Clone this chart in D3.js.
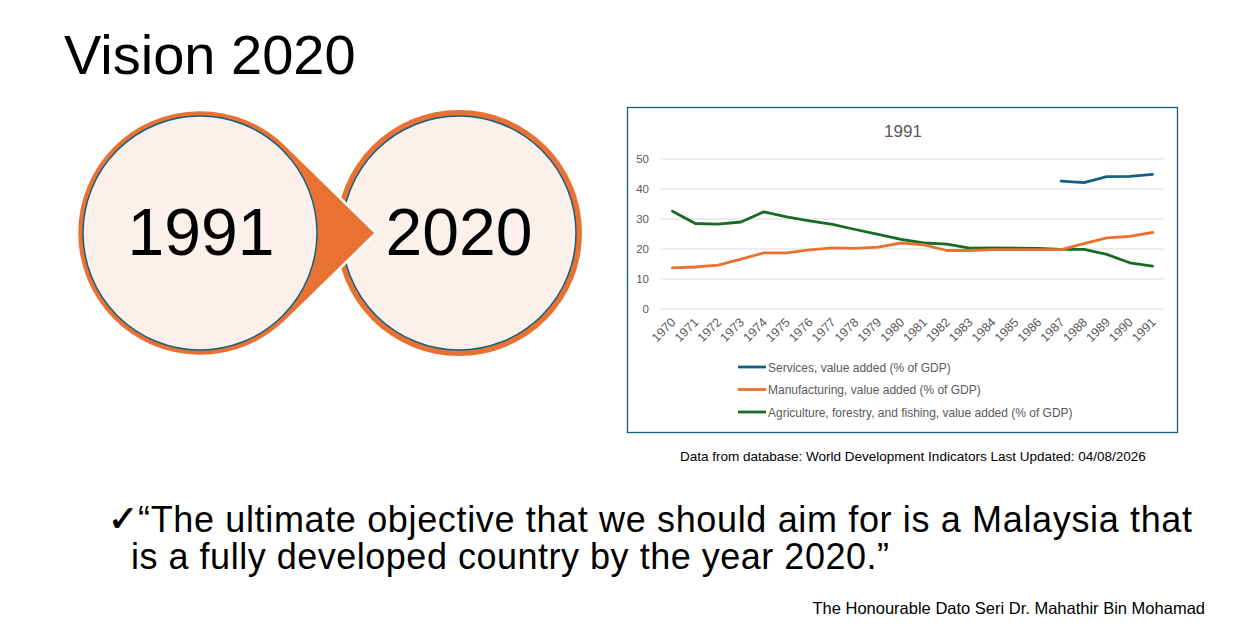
<!DOCTYPE html>
<html>
<head>
<meta charset="utf-8">
<script src="https://cdn.jsdelivr.net/npm/d3@7"></script>
<style>
  body { margin: 0; background: #fff; }
  svg { display: block; font-family: "Liberation Sans", Arial, sans-serif; }
</style>
</head>
<body>
<svg id="slide" width="1252" height="637"></svg>
<script>
// Years on the x axis
var years = ['1970', '1971', '1972', '1973', '1974', '1975', '1976', '1977', '1978', '1979', '1980',
  '1981', '1982', '1983', '1984', '1985', '1986', '1987', '1988', '1989', '1990', '1991'];

// Series values, % of GDP (null = no data)
var services = [null, null, null, null, null, null, null, null, null, null, null,
  null, null, null, null, null, null, 42.6, 42.1, 44.1, 44.2, 44.9];
var manufacturing = [13.7, 14.0, 14.6, 16.6, 18.7, 18.7, 19.7, 20.4, 20.2, 20.6, 22.0,
  21.4, 19.5, 19.5, 19.8, 19.8, 19.8, 19.8, 21.8, 23.7, 24.2, 25.5];
var agriculture = [32.6, 28.5, 28.3, 29.0, 32.4, 30.7, 29.4, 28.2, 26.5, 24.9, 23.2,
  22.0, 21.6, 20.3, 20.4, 20.3, 20.2, 19.9, 19.9, 18.2, 15.4, 14.3];

var seriesNames = ['Services, value added (% of GDP)',
  'Manufacturing, value added (% of GDP)',
  'Agriculture, forestry, and fishing, value added (% of GDP)'];
var yTicks = [0, 10, 20, 30, 40, 50];

var blue = '#156082', orange = '#E97132', green = '#196B24';
var seriesColors = [blue, orange, green];

var svg = d3.select('#slide');

// Slide title
svg.append('text')
  .attr('x', 64).attr('y', 74)
  .attr('font-size', 56)
  .attr('fill', '#000')
  .text('Vision 2020');

// ---- the two circles with the arrow ----
var left = { x: 200, y: 233 }, right = { x: 459, y: 233 };
var rOuter = 123, rInner = 117;
var tip = { x: 376, y: 233 };

// right circle first (arrow sits on top of it)
svg.append('circle').attr('cx', right.x).attr('cy', right.y).attr('r', rOuter).attr('fill', orange);
svg.append('circle').attr('cx', right.x).attr('cy', right.y).attr('r', rInner)
  .attr('fill', '#FBF0EA').attr('stroke', blue).attr('stroke-width', 1.5);

// teardrop: left circle plus a point at the tip
var d = tip.x - left.x;
var a = Math.acos(rOuter / d);
var p2 = [left.x + rOuter * Math.cos(a), left.y + rOuter * Math.sin(a)];
var drop = d3.path();
drop.moveTo(tip.x, tip.y);
drop.lineTo(p2[0], p2[1]);
drop.arc(left.x, left.y, rOuter, a, 2 * Math.PI - a, false);
drop.closePath();
svg.append('path').attr('d', drop.toString())
  .attr('fill', orange).attr('stroke', '#fff').attr('stroke-width', 2.5);
svg.append('circle').attr('cx', left.x).attr('cy', left.y).attr('r', rInner)
  .attr('fill', '#FBF0EA').attr('stroke', blue).attr('stroke-width', 1.5);

svg.append('text').attr('x', left.x + 1).attr('y', 255)
  .attr('text-anchor', 'middle').attr('font-size', 66).attr('fill', '#000').text('1991');
svg.append('text').attr('x', right.x).attr('y', 255)
  .attr('text-anchor', 'middle').attr('font-size', 66).attr('fill', '#000').text('2020');

// ---- chart box ----
svg.append('rect')
  .attr('x', 627.5).attr('y', 107.5).attr('width', 550).attr('height', 325)
  .attr('fill', '#fff').attr('stroke', blue).attr('stroke-width', 1.3);

svg.append('text')
  .attr('x', 903).attr('y', 137)
  .attr('text-anchor', 'middle').attr('font-size', 17).attr('fill', '#595959')
  .text('1991');

var x = d3.scaleBand().domain(years).range([661, 1164]).padding(0);
var y = d3.scaleLinear().domain([0, 50]).range([309, 159]);

// gridlines
svg.append('g').selectAll('line')
  .data(yTicks).enter().append('line')
  .attr('x1', 661).attr('x2', 1164)
  .attr('y1', function (t) { return y(t); })
  .attr('y2', function (t) { return y(t); })
  .attr('stroke', '#D9D9D9').attr('stroke-width', 1);

// y axis labels
var yAxis = svg.append('g')
  .attr('transform', 'translate(661,0)')
  .call(d3.axisLeft(y).tickValues(yTicks).tickSize(0).tickPadding(12));
yAxis.select('.domain').remove();
yAxis.selectAll('text').attr('font-size', 11.5).attr('fill', '#595959')
  .attr('font-family', '"Liberation Sans", Arial, sans-serif');

// x axis labels, rotated
var xAxis = svg.append('g')
  .attr('transform', 'translate(0,309)')
  .call(d3.axisBottom(x).tickSize(0).tickPadding(0));
xAxis.select('.domain').remove();
xAxis.selectAll('text')
  .attr('font-size', 12.5).attr('fill', '#595959')
  .attr('font-family', '"Liberation Sans", Arial, sans-serif')
  .attr('text-anchor', 'end')
  .attr('dy', 0)
  .attr('transform', 'translate(4,14) rotate(-45)');

// lines
var allSeries = [services, manufacturing, agriculture];
var line = d3.line()
  .defined(function (v) { return v !== null; })
  .x(function (v, i) { return x(years[i]) + x.bandwidth() / 2; })
  .y(function (v) { return y(v); });

// draw agriculture first, then manufacturing, then services on top
[2, 1, 0].forEach(function (k) {
  svg.append('path')
    .datum(allSeries[k])
    .attr('d', line)
    .attr('fill', 'none')
    .attr('stroke', seriesColors[k])
    .attr('stroke-width', 2.8)
    .attr('stroke-linejoin', 'round')
    .attr('stroke-linecap', 'round');
});

// legend
var legend = svg.append('g').selectAll('g')
  .data(seriesNames).enter().append('g')
  .attr('transform', function (n, i) { return 'translate(738,' + (367 + i * 22.5) + ')'; });
legend.append('line')
  .attr('x1', 0).attr('x2', 28).attr('y1', 0).attr('y2', 0)
  .attr('stroke', function (n, i) { return seriesColors[i]; })
  .attr('stroke-width', 2.8);
legend.append('text')
  .attr('x', 30).attr('y', 4.5)
  .attr('font-size', 12).attr('fill', '#595959')
  .text(function (n) { return n; });

// source note
svg.append('text')
  .attr('x', 680).attr('y', 461)
  .attr('font-size', 13.5).attr('fill', '#000')
  .text('Data from database: World Development Indicators Last Updated: 04/08/2026');

// quote
svg.append('text')
  .attr('x', 108).attr('y', 531)
  .attr('font-size', 36).attr('fill', '#000')
  .attr('stroke', '#000').attr('stroke-width', 0.8)
  .attr('font-family', '"DejaVu Sans", sans-serif')
  .text('\u2713');
svg.append('text')
  .attr('x', 138).attr('y', 532)
  .attr('font-size', 36).attr('fill', '#000')
  .attr('textLength', 1054).attr('lengthAdjust', 'spacing')
  .text('\u201CThe ultimate objective that we should aim for is a Malaysia that');
svg.append('text')
  .attr('x', 131).attr('y', 569)
  .attr('font-size', 36).attr('fill', '#000')
  .attr('textLength', 758).attr('lengthAdjust', 'spacing')
  .text('is a fully developed country by the year 2020.\u201D');

svg.append('text')
  .attr('x', 1205).attr('y', 614)
  .attr('text-anchor', 'end')
  .attr('font-size', 16.5).attr('fill', '#000')
  .text('The Honourable Dato Seri Dr. Mahathir Bin Mohamad');
</script>
</body>
</html>
